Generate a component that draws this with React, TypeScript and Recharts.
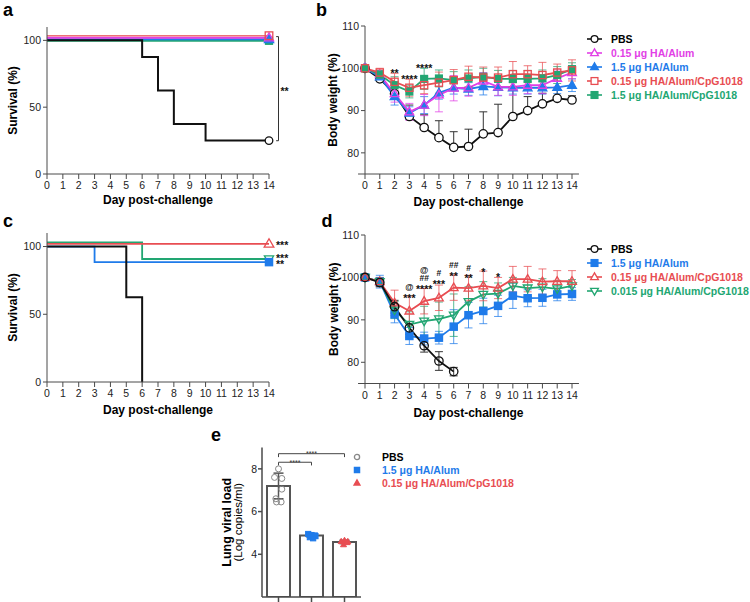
import React from 'react';
import {
  LineChart, Line, XAxis, YAxis, ErrorBar, ReferenceLine, ReferenceDot,
  ComposedChart, Bar, Scatter, Label,
} from 'recharts';

const FONT = '"Liberation Sans", Arial, Helvetica, sans-serif';
const C_BLACK = '#111111';
const C_MAG = '#E23FE6';
const C_BLUE = '#1F7BEA';
const C_RED = '#E84D52';
const C_GREEN = '#22A672';
const C_AXIS = '#4a4a4a';
const C_TICK = '#222222';

// ---------------- data ----------------
const days = [0, 1, 2, 3, 4, 5, 6, 7, 8, 9, 10, 11, 12, 13, 14];

// Panel a – survival (%)
const aPBS = [100, 100, 100, 100, 100, 100, 87.5, 62.5, 37.5, 37.5, 25, 25, 25, 25, 25];
const aHA015 = [102, 102, 102, 102, 102, 102, 102, 102, 102, 102, 102, 102, 102, 102, 102];
const aHA15 = [100.8, 100.8, 100.8, 100.8, 100.8, 100.8, 100.8, 100.8, 100.8, 100.8, 100.8, 100.8, 100.8, 100.8, 100.8];
const aCpG015 = [103.5, 103.5, 103.5, 103.5, 103.5, 103.5, 103.5, 103.5, 103.5, 103.5, 103.5, 103.5, 103.5, 103.5, 103.5];
const aCpG15 = [99.7, 99.7, 99.7, 99.7, 99.7, 99.7, 99.7, 99.7, 99.7, 99.7, 99.7, 99.7, 99.7, 99.7, 99.7];

// Panel b – body weight (%)
const bPBS = [100, 97.5, 94, 88.6, 86.0, 83.6, 81.3, 81.5, 84.5, 84.8, 88.6, 90.0, 91.6, 92.9, 92.5];
const bPBSErrUp = [0, 1, 1.5, 2.7, 3, 4, 3.7, 4.1, 5.2, 6.7, 8, 3.3, 2.5, 2, 1];
const bHA015 = [100, 98.5, 94, 89.7, 91.3, 93.7, 95.3, 95.4, 97, 95.6, 95.6, 96, 96, 97.6, 99];
const bHA015Err = [0.5, 1, 2, 2, 2.5, 4, 3, 2, 2, 2, 2, 2, 2, 2, 1.5];
const bHA15 = [100, 98, 93.3, 89.4, 91.3, 94.2, 95.4, 95.1, 95.7, 95.5, 95.4, 95.4, 95.4, 95.5, 96];
const bHA15Err = [0.5, 1, 2, 1.5, 2, 1.5, 1.5, 1.5, 2, 2, 1.5, 1.5, 1.5, 1.5, 1.5];
const bCpG015 = [100, 99, 96.8, 95.4, 96, 96.6, 97.2, 98, 97.8, 97.8, 98.6, 98.6, 98.4, 99, 99.5];
const bCpG015Err = [0.5, 1, 2, 2, 2, 2.5, 2.5, 2.5, 2.5, 2.5, 3, 2, 3, 2, 2.5];
const bCpG15 = [100, 98.5, 96, 94.5, 97.5, 97.6, 97.2, 97.6, 98, 97.5, 97.5, 97.5, 97.6, 98.4, 99.8];
const bCpG15Err = [0.5, 1, 2, 1.5, 2.5, 2, 2, 2, 2, 2, 2, 2, 2, 2, 1.5];
const bAnnDay = [2, 3, 4];
const bAnnY = [98.9, 97.5, 100.1];
const bAnnText = ['**', '****', '****'];

// Panel c – survival (%)
const cPBS = [100, 100, 100, 100, 100, 62.5, 0, null, null, null, null, null, null, null, null];
const cHA15 = [100, 100, 100, 88.5, 88.5, 88.5, 88.5, 88.5, 88.5, 88.5, 88.5, 88.5, 88.5, 88.5, 88.5];
const cCpG015 = [102, 102, 102, 102, 102, 102, 102, 102, 102, 102, 102, 102, 102, 102, 102];
const cCpG0015 = [103, 103, 103, 103, 103, 103, 90.8, 90.8, 90.8, 90.8, 90.8, 90.8, 90.8, 90.8, 90.8];
const cAnnY = [100.7, 91.1, 86.7];
const cAnnText = ['***', '***', '**'];

// Panel d – body weight (%)
const dPBS = [100, 98.8, 93.1, 88.1, 83.9, 80.3, 77.8, null, null, null, null, null, null, null, null];
const dPBSErr = [0.5, 1, 1.5, 1.5, 1.5, 2.2, 1, null, null, null, null, null, null, null, null];
const dHA15 = [100, 99, 91.3, 86.2, 85.6, 85.8, 88.4, 91.1, 92.1, 93.3, 95.7, 95.1, 95.2, 96, 96.1];
const dHA15Err = [0.5, 1.5, 2, 2, 1.5, 1.5, 4, 3, 3, 2.5, 3, 2, 2, 1.5, 1.5];
const dCpG015 = [100, 99, 94, 92.1, 94.4, 95.2, 97.6, 97.5, 98, 97.5, 99.6, 99.6, 99, 99.1, 99.1];
const dCpG015Err = [0.5, 1, 3, 3.5, 3, 3, 3, 3, 3.5, 2.5, 3, 3, 3, 2.5, 2.5];
const dCpG0015 = [100, 99, 92.3, 88.9, 89.7, 90.2, 91.1, 94.3, 96, 96.2, 98, 97.5, 97.7, 97.3, 98];
const dCpG0015Err = [0.5, 1, 2, 3, 3.5, 4, 5, 3.5, 3, 2.5, 2, 2, 2, 2, 1.5];
const dAnnDay = [3, 3, 4, 4, 4, 5, 5, 6, 6, 7, 7, 8, 9];
const dAnnY = [95.1, 97.8, 97.1, 99.8, 101.7, 98.4, 101, 100.3, 102.9, 99.7, 102.3, 101.3, 100];
const dAnnText = ['***', '@', '****', '##', '@', '***', '#', '**', '##', '**', '#', '*', '*'];

// Panel e – lung viral load
const eGroups = ['PBS', '1.5 μg HA/Alum', '0.15 μg HA/Alum/CpG1018'];
const eMeans = [7.2, 4.88, 4.58];
const eSD = [0.6, 0.08, 0.08];
const ePBSPts = [8.0, 7.6, 7.55, 7.05, 6.6, 6.45, 6.45];
const ePBSJit = [0, -0.12, 0.1, 0.1, -0.08, 0.08, -0.06];
const eHAPts = [4.95, 4.9, 4.88, 4.8, 4.85, 4.75];
const eHAJit = [-0.1, 0, 0.1, -0.05, 0.12, 0.05];
const eCpGPts = [4.6, 4.65, 4.6, 4.45, 4.55];
const eCpGJit = [-0.1, 0, 0.1, -0.03, 0.08];

// ---------------- tables ----------------
const aData = days.map((d, i) => ({ day: d, pbs: aPBS[i], ha015: aHA015[i], ha15: aHA15[i], cpg015: aCpG015[i], cpg15: aCpG15[i] }));
const bData = days.map((d, i) => ({
  day: d,
  pbs: bPBS[i], pbsErr: [0, bPBSErrUp[i]],
  ha015: bHA015[i], ha015Err: bHA015Err[i],
  ha15: bHA15[i], ha15Err: bHA15Err[i],
  cpg015: bCpG015[i], cpg015Err: bCpG015Err[i],
  cpg15: bCpG15[i], cpg15Err: bCpG15Err[i],
}));
const cData = days.map((d, i) => ({ day: d, pbs: cPBS[i], ha15: cHA15[i], cpg015: cCpG015[i], cpg0015: cCpG0015[i] }));
const dData = days.map((d, i) => ({
  day: d,
  pbs: dPBS[i], pbsErr: dPBSErr[i],
  ha15: dHA15[i], ha15Err: dHA15Err[i],
  cpg015: dCpG015[i], cpg015Err: dCpG015Err[i],
  cpg0015: dCpG0015[i], cpg0015Err: dCpG0015Err[i],
}));
const eData = eGroups.map((g, i) => ({ group: g, mean: eMeans[i], sd: eSD[i] }));
const ePBSData = ePBSPts.map((v, i) => ({ g: 0 + ePBSJit[i], v }));
const eHAData = eHAPts.map((v, i) => ({ g: 1 + eHAJit[i], v }));
const eCpGData = eCpGPts.map((v, i) => ({ g: 2 + eCpGJit[i], v }));

// ---------------- helpers ----------------
type Shape = 'circle' | 'square' | 'triUp' | 'triDown';
type FillMode = 'solid' | 'white' | 'none';

function marker(shape: Shape, cx: number, cy: number, s: number, color: string, fillMode: FillMode, key: string, sw = 1.3) {
  const fill = fillMode === 'solid' ? color : fillMode === 'white' ? '#ffffff' : 'none';
  if (shape === 'circle') return <circle key={key} cx={cx} cy={cy} r={s} fill={fill} stroke={color} strokeWidth={sw} />;
  if (shape === 'square') return <rect key={key} x={cx - s} y={cy - s} width={2 * s} height={2 * s} fill={fill} stroke={color} strokeWidth={sw} />;
  if (shape === 'triUp')
    return <polygon key={key} points={`${cx},${cy - s * 1.2} ${cx - s * 1.15},${cy + s * 0.8} ${cx + s * 1.15},${cy + s * 0.8}`} fill={fill} stroke={color} strokeWidth={sw} />;
  return <polygon key={key} points={`${cx},${cy + s * 1.2} ${cx - s * 1.15},${cy - s * 0.8} ${cx + s * 1.15},${cy - s * 0.8}`} fill={fill} stroke={color} strokeWidth={sw} />;
}

const dotAll = (shape: Shape, color: string, fillMode: FillMode, s: number) => (p: any) => {
  const { cx, cy, index, value } = p;
  if (cx == null || cy == null || value == null || Number.isNaN(cy)) return <g key={`n-${index}`} />;
  return marker(shape, cx, cy, s, color, fillMode, `m-${index}`);
};
const dotLast = (shape: Shape, color: string, fillMode: FillMode, s: number, last = 14) => (p: any) => {
  const { cx, cy, index } = p;
  if (cx == null || cy == null || index !== last) return <g key={`n-${index}`} />;
  return marker(shape, cx, cy, s, color, fillMode, `m-${index}`);
};

const tickStyle = { fontSize: 10.5, fill: C_TICK, fontFamily: FONT };
const titleStyle: any = { fontSize: 12, fontWeight: 'bold', fill: '#000', fontFamily: FONT };

type LegItem = { label: string; color: string; shape: Shape; fill: FillMode };
function LegendBlock({ items, x, y0, dy, symW, textX, line, size }: { items: LegItem[]; x: number; y0: number; dy: number; symW: number; textX: number; line: boolean; size: number }) {
  return (
    <>
      {items.map((it, i) => {
        const cy = y0 + i * dy;
        return (
          <React.Fragment key={i}>
            <svg style={{ position: 'absolute', left: x, top: cy - 7, overflow: 'visible' }} width={symW} height={14}>
              {line && <line x1={0} x2={symW} y1={7} y2={7} stroke={it.color} strokeWidth={1.6} />}
              {marker(it.shape, symW / 2, 7, size, it.color, it.fill, 'm')}
            </svg>
            <div style={{ position: 'absolute', left: textX, top: cy - 7, height: 14, lineHeight: '14px', fontSize: 10.5, fontWeight: 'bold', color: it.color === C_BLACK || it.color === '#888888' ? '#000' : it.color, fontFamily: FONT, whiteSpace: 'nowrap' }}>
              {it.label}
            </div>
          </React.Fragment>
        );
      })}
    </>
  );
}

const bLegend: LegItem[] = [
  { label: 'PBS', color: C_BLACK, shape: 'circle', fill: 'white' },
  { label: '0.15 μg HA/Alum', color: C_MAG, shape: 'triUp', fill: 'white' },
  { label: '1.5 μg HA/Alum', color: C_BLUE, shape: 'triUp', fill: 'solid' },
  { label: '0.15 μg HA/Alum/CpG1018', color: C_RED, shape: 'square', fill: 'white' },
  { label: '1.5 μg HA/Alum/CpG1018', color: C_GREEN, shape: 'square', fill: 'solid' },
];
const dLegend: LegItem[] = [
  { label: 'PBS', color: C_BLACK, shape: 'circle', fill: 'white' },
  { label: '1.5 μg HA/Alum', color: C_BLUE, shape: 'square', fill: 'solid' },
  { label: '0.15 μg HA/Alum/CpG1018', color: C_RED, shape: 'triUp', fill: 'white' },
  { label: '0.015 μg HA/Alum/CpG1018', color: C_GREEN, shape: 'triDown', fill: 'white' },
];
const eLegend: LegItem[] = [
  { label: 'PBS', color: '#888888', shape: 'circle', fill: 'white' },
  { label: '1.5 μg HA/Alum', color: C_BLUE, shape: 'square', fill: 'solid' },
  { label: '0.15 μg HA/Alum/CpG1018', color: C_RED, shape: 'triUp', fill: 'solid' },
];

const annLabel = (text: string) => ({
  value: text,
  position: 'center' as const,
  fontSize: text.includes('*') ? 10.5 : 8.5,
  fill: '#111',
  fontFamily: FONT,
  fontWeight: 'bold',
});

// ---------------- panels ----------------
function PanelA() {
  return (
    <LineChart width={300} height={210} data={aData} margin={{ top: 27, right: 31, bottom: 6, left: 0 }}>
      <XAxis dataKey="day" type="number" domain={[0, 14]} ticks={days} interval={0} height={30} tickSize={5} tickMargin={3} stroke={C_AXIS} tick={tickStyle}>
        <Label value="Day post-challenge" position="insideBottom" offset={0} style={titleStyle} />
      </XAxis>
      <YAxis type="number" domain={[0, 110]} ticks={[0, 50, 100]} width={47} tickSize={4} tickMargin={2} stroke={C_AXIS} tick={tickStyle} allowDataOverflow>
        <Label value="Survival (%)" angle={-90} position="insideLeft" offset={13} style={{ ...titleStyle, textAnchor: 'middle' }} />
      </YAxis>
      <Line type="stepAfter" dataKey="cpg15" stroke={C_GREEN} strokeWidth={2} dot={dotLast('square', C_GREEN, 'solid', 3.5)} isAnimationActive={false} />
      <Line type="stepAfter" dataKey="ha15" stroke={C_BLUE} strokeWidth={2} dot={dotLast('triUp', C_BLUE, 'solid', 4)} isAnimationActive={false} />
      <Line type="stepAfter" dataKey="ha015" stroke={C_MAG} strokeWidth={2} dot={dotLast('triUp', C_MAG, 'none', 4)} isAnimationActive={false} />
      <Line type="stepAfter" dataKey="cpg015" stroke={C_RED} strokeWidth={1.6} strokeOpacity={0.8} dot={dotLast('square', C_RED, 'none', 3.8)} isAnimationActive={false} />
      <Line type="stepAfter" dataKey="pbs" stroke={C_BLACK} strokeWidth={2} dot={dotLast('circle', C_BLACK, 'white', 3.8)} isAnimationActive={false} />
      <ReferenceLine segment={[{ x: 14.6, y: 102.8 }, { x: 14.6, y: 24.9 }]} stroke="#333" strokeWidth={1} ifOverflow="visible" />
      <ReferenceLine segment={[{ x: 14.45, y: 102.8 }, { x: 14.6, y: 102.8 }]} stroke="#333" strokeWidth={1} ifOverflow="visible" />
      <ReferenceLine segment={[{ x: 14.45, y: 24.9 }, { x: 14.6, y: 24.9 }]} stroke="#333" strokeWidth={1} ifOverflow="visible" />
      <ReferenceDot x={14.6} y={62} r={0} fill="none" stroke="none" ifOverflow="visible"
        label={{ value: '**', position: 'right', offset: 2, fontSize: 10.5, fill: '#111', fontFamily: FONT, fontWeight: 'bold' }} />
    </LineChart>
  );
}

function PanelB() {
  return (
    <LineChart width={280} height={210} data={bData} margin={{ top: 26, right: 8, bottom: 4, left: 0 }}>
      <XAxis dataKey="day" type="number" domain={[0, 14]} ticks={days} interval={0} height={32} tickSize={5} tickMargin={3} stroke={C_AXIS} axisLine={false} tick={tickStyle}>
        <Label value="Day post-challenge" position="insideBottom" offset={0} style={titleStyle} />
      </XAxis>
      <YAxis type="number" domain={[75, 110]} ticks={[80, 90, 100, 110]} width={65} tickSize={4} tickMargin={2} stroke={C_AXIS} tick={tickStyle} allowDataOverflow>
        <Label value="Body weight (%)" angle={-90} position="insideLeft" offset={33} style={{ ...titleStyle, textAnchor: 'middle' }} />
      </YAxis>
      <ReferenceLine segment={[{ x: -0.47, y: 75 }, { x: 14.47, y: 75 }]} stroke={C_AXIS} strokeWidth={1} ifOverflow="visible" />
      <Line dataKey="pbs" type="linear" stroke={C_BLACK} strokeWidth={1.8} dot={dotAll('circle', C_BLACK, 'white', 4.2)} isAnimationActive={false}>
        <ErrorBar dataKey="pbsErr" width={4} stroke="#333" strokeWidth={1} direction="y" isAnimationActive={false} />
      </Line>
      <Line dataKey="ha15" type="linear" stroke={C_BLUE} strokeWidth={1.8} dot={dotAll('triUp', C_BLUE, 'solid', 3.8)} isAnimationActive={false}>
        <ErrorBar dataKey="ha15Err" width={4} stroke={C_BLUE} strokeOpacity={0.75} strokeWidth={1} direction="y" isAnimationActive={false} />
      </Line>
      <Line dataKey="ha015" type="linear" stroke={C_MAG} strokeWidth={1.8} dot={dotAll('triUp', C_MAG, 'none', 3.8)} isAnimationActive={false}>
        <ErrorBar dataKey="ha015Err" width={4} stroke={C_MAG} strokeOpacity={0.75} strokeWidth={1} direction="y" isAnimationActive={false} />
      </Line>
      <Line dataKey="cpg15" type="linear" stroke={C_GREEN} strokeWidth={1.8} dot={dotAll('square', C_GREEN, 'solid', 3.4)} isAnimationActive={false}>
        <ErrorBar dataKey="cpg15Err" width={4} stroke={C_GREEN} strokeOpacity={0.75} strokeWidth={1} direction="y" isAnimationActive={false} />
      </Line>
      <Line dataKey="cpg015" type="linear" stroke={C_RED} strokeWidth={1.8} dot={dotAll('square', C_RED, 'none', 3.6)} isAnimationActive={false}>
        <ErrorBar dataKey="cpg015Err" width={4} stroke={C_RED} strokeOpacity={0.75} strokeWidth={1} direction="y" isAnimationActive={false} />
      </Line>
      {bAnnDay.map((d, i) => (
        <ReferenceDot key={`ba${i}`} x={d} y={bAnnY[i]} r={0} fill="none" stroke="none" ifOverflow="visible" label={annLabel(bAnnText[i])} />
      ))}
    </LineChart>
  );
}

function PanelC() {
  return (
    <LineChart width={300} height={210} data={cData} margin={{ top: 23, right: 31, bottom: 6, left: 0 }}>
      <XAxis dataKey="day" type="number" domain={[0, 14]} ticks={days} interval={0} height={32} tickSize={5} tickMargin={3} stroke={C_AXIS} tick={tickStyle}>
        <Label value="Day post-challenge" position="insideBottom" offset={0} style={titleStyle} />
      </XAxis>
      <YAxis type="number" domain={[0, 110]} ticks={[0, 50, 100]} width={47} tickSize={4} tickMargin={2} stroke={C_AXIS} tick={tickStyle} allowDataOverflow>
        <Label value="Survival (%)" angle={-90} position="insideLeft" offset={13} style={{ ...titleStyle, textAnchor: 'middle' }} />
      </YAxis>
      <Line type="stepAfter" dataKey="cpg0015" stroke={C_GREEN} strokeWidth={1.8} dot={dotLast('triDown', C_GREEN, 'none', 4)} isAnimationActive={false} />
      <Line type="stepAfter" dataKey="cpg015" stroke={C_RED} strokeWidth={1.6} dot={dotLast('triUp', C_RED, 'none', 4.2)} isAnimationActive={false} />
      <Line type="stepAfter" dataKey="ha15" stroke={C_BLUE} strokeWidth={1.8} dot={dotLast('square', C_BLUE, 'solid', 3.6)} isAnimationActive={false} />
      <Line type="stepAfter" dataKey="pbs" stroke={C_BLACK} strokeWidth={2} dot={false} isAnimationActive={false} />
      {cAnnY.map((y, i) => (
        <ReferenceDot key={`ca${i}`} x={14} y={y} r={0} fill="none" stroke="none" ifOverflow="visible"
          label={{ value: cAnnText[i], position: 'right', offset: 7, fontSize: 10.5, fill: '#111', fontFamily: FONT, fontWeight: 'bold' }} />
      ))}
    </LineChart>
  );
}

function PanelD() {
  return (
    <LineChart width={280} height={210} data={dData} margin={{ top: 25, right: 8, bottom: 3.5, left: 0 }}>
      <XAxis dataKey="day" type="number" domain={[0, 14]} ticks={days} interval={0} height={33} tickSize={5} tickMargin={3} stroke={C_AXIS} axisLine={false} tick={tickStyle}>
        <Label value="Day post-challenge" position="insideBottom" offset={0} style={titleStyle} />
      </XAxis>
      <YAxis type="number" domain={[75, 110]} ticks={[80, 90, 100, 110]} width={65} tickSize={4} tickMargin={2} stroke={C_AXIS} tick={tickStyle} allowDataOverflow>
        <Label value="Body weight (%)" angle={-90} position="insideLeft" offset={34} style={{ ...titleStyle, textAnchor: 'middle' }} />
      </YAxis>
      <ReferenceLine segment={[{ x: -0.47, y: 75 }, { x: 14.47, y: 75 }]} stroke={C_AXIS} strokeWidth={1} ifOverflow="visible" />
      <Line dataKey="ha15" type="linear" stroke={C_BLUE} strokeWidth={1.8} dot={dotAll('square', C_BLUE, 'solid', 3.6)} isAnimationActive={false}>
        <ErrorBar dataKey="ha15Err" width={4} stroke={C_BLUE} strokeOpacity={0.75} strokeWidth={1} direction="y" isAnimationActive={false} />
      </Line>
      <Line dataKey="cpg0015" type="linear" stroke={C_GREEN} strokeWidth={1.8} dot={dotAll('triDown', C_GREEN, 'none', 3.8)} isAnimationActive={false}>
        <ErrorBar dataKey="cpg0015Err" width={4} stroke={C_GREEN} strokeOpacity={0.75} strokeWidth={1} direction="y" isAnimationActive={false} />
      </Line>
      <Line dataKey="cpg015" type="linear" stroke={C_RED} strokeWidth={1.8} dot={dotAll('triUp', C_RED, 'none', 3.8)} isAnimationActive={false}>
        <ErrorBar dataKey="cpg015Err" width={4} stroke={C_RED} strokeOpacity={0.75} strokeWidth={1} direction="y" isAnimationActive={false} />
      </Line>
      <Line dataKey="pbs" type="linear" stroke={C_BLACK} strokeWidth={1.8} dot={dotAll('circle', C_BLACK, 'none', 4.2)} isAnimationActive={false}>
        <ErrorBar dataKey="pbsErr" width={4} stroke="#333" strokeWidth={1} direction="y" isAnimationActive={false} />
      </Line>
      {dAnnDay.map((d, i) => (
        <ReferenceDot key={`da${i}`} x={d} y={dAnnY[i]} r={0} fill="none" stroke="none" ifOverflow="visible" label={annLabel(dAnnText[i])} />
      ))}
    </LineChart>
  );
}

const scatterShape = (shape: Shape, color: string, fillMode: FillMode, s: number) => (p: any) => {
  if (p.cx == null || p.cy == null) return <g />;
  return marker(shape, p.cx, p.cy, s, color, fillMode, 'k', 1);
};

function PanelE() {
  return (
    <ComposedChart width={190} height={182} data={eData} margin={{ top: 27.5, right: 9, bottom: 0, left: 0 }}>
      <XAxis dataKey="group" type="category" height={5} tickSize={5} interval={0} tickFormatter={() => ''} stroke={C_AXIS} strokeWidth={1.5} />
      <XAxis xAxisId="num" dataKey="g" type="number" domain={[-0.5, 2.5]} hide allowDataOverflow />
      <YAxis type="number" domain={[2, 9]} ticks={[2, 4, 6, 8]} width={82} tickSize={4} tickMargin={1} stroke={C_AXIS} strokeWidth={1.5} tick={tickStyle} allowDataOverflow>
        <Label value="Lung viral load" angle={-90} position="insideLeft" offset={47} style={{ ...titleStyle, fontSize: 12.5, textAnchor: 'middle' }} />
        <Label value="(Log copies/ml)" angle={-90} position="insideLeft" offset={58} style={{ fontSize: 11.5, fill: '#000', fontFamily: FONT, textAnchor: 'middle' }} />
      </YAxis>
      <Bar dataKey="mean" barSize={23} fill="#ffffff" stroke="#555555" strokeWidth={2} isAnimationActive={false}>
        <ErrorBar dataKey="sd" width={5} stroke="#555555" strokeWidth={1.5} direction="y" isAnimationActive={false} />
      </Bar>
      <Scatter xAxisId="num" data={ePBSData} dataKey="v" shape={scatterShape('circle', '#888888', 'none', 3)} isAnimationActive={false} />
      <Scatter xAxisId="num" data={eHAData} dataKey="v" shape={scatterShape('square', C_BLUE, 'solid', 2.6)} isAnimationActive={false} />
      <Scatter xAxisId="num" data={eCpGData} dataKey="v" shape={scatterShape('triUp', C_RED, 'solid', 2.6)} isAnimationActive={false} />
      <ReferenceLine xAxisId="num" segment={[{ x: 0, y: 8.71 }, { x: 2, y: 8.71 }]} stroke="#444" strokeWidth={1} ifOverflow="visible" />
      <ReferenceLine xAxisId="num" segment={[{ x: 0, y: 8.71 }, { x: 0, y: 8.55 }]} stroke="#444" strokeWidth={1} ifOverflow="visible" />
      <ReferenceLine xAxisId="num" segment={[{ x: 2, y: 8.71 }, { x: 2, y: 8.55 }]} stroke="#444" strokeWidth={1} ifOverflow="visible" />
      <ReferenceLine xAxisId="num" segment={[{ x: 0, y: 8.31 }, { x: 1, y: 8.31 }]} stroke="#444" strokeWidth={1} ifOverflow="visible" />
      <ReferenceLine xAxisId="num" segment={[{ x: 0, y: 8.31 }, { x: 0, y: 8.16 }]} stroke="#444" strokeWidth={1} ifOverflow="visible" />
      <ReferenceLine xAxisId="num" segment={[{ x: 1, y: 8.31 }, { x: 1, y: 8.16 }]} stroke="#444" strokeWidth={1} ifOverflow="visible" />
      <ReferenceDot xAxisId="num" x={1} y={8.71} r={0} fill="none" stroke="none" ifOverflow="visible"
        label={{ value: '****', position: 'center', fontSize: 7, fill: '#333', fontFamily: FONT }} />
      <ReferenceDot xAxisId="num" x={0.5} y={8.31} r={0} fill="none" stroke="none" ifOverflow="visible"
        label={{ value: '****', position: 'center', fontSize: 7, fill: '#333', fontFamily: FONT }} />
    </ComposedChart>
  );
}

export default function App() {
  const abs = (left: number, top: number): React.CSSProperties => ({ position: 'absolute', left, top });
  return (
    <div style={{ position: 'absolute', left: 0, top: 0, width: 750, height: 602, background: '#fff', fontFamily: FONT, overflow: 'hidden' }}>
      <svg style={{ position: 'absolute', left: 0, top: 0 }} width={750} height={602}>
        <g fontFamily={FONT} fontWeight="bold" fontSize={18} fill="#000">
          <text x={3} y={15.5}>a</text>
          <text x={316} y={16}>b</text>
          <text x={3} y={226.5}>c</text>
          <text x={321.5} y={227}>d</text>
          <text x={211} y={440.5}>e</text>
        </g>
      </svg>
      <div style={abs(0, 0)}><PanelA /></div>
      <div style={abs(300, 0)}><PanelB /></div>
      <div style={abs(0, 210)}><PanelC /></div>
      <div style={abs(300, 210)}><PanelD /></div>
      <div style={abs(180, 420)}><PanelE /></div>
      <LegendBlock items={bLegend} x={587} y0={39} dy={14} symW={15} textX={611} line size={3.4} />
      <LegendBlock items={dLegend} x={587} y0={249} dy={14} symW={15} textX={611} line size={3.4} />
      <LegendBlock items={eLegend} x={353} y0={457} dy={13} symW={8} textX={382} line={false} size={2.6} />
    </div>
  );
}
